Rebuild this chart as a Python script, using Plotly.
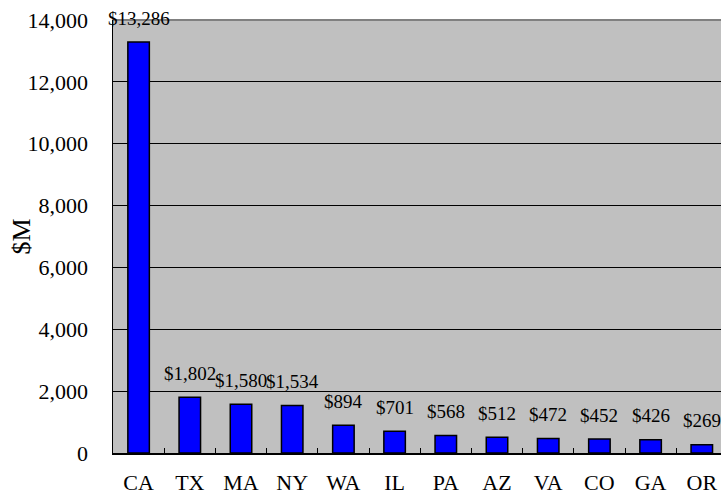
import plotly.graph_objects as go

states = ["CA", "TX", "MA", "NY", "WA", "IL", "PA", "AZ", "VA", "CO", "GA", "OR"]
values = [13286, 1802, 1580, 1534, 894, 701, 568, 512, 472, 452, 426, 269]
y_ticks = [0, 2000, 4000, 6000, 8000, 10000, 12000, 14000]
y_tick_labels = ["0", "2,000", "4,000", "6,000", "8,000", "10,000", "12,000", "14,000"]

FONT = "Liberation Serif, Times New Roman, serif"

fig = go.Figure()
fig.add_trace(go.Bar(
    x=states, y=values,
    width=0.42,
    marker=dict(color="#0000FF", line=dict(color="#000000", width=1.5)),
    hoverinfo="skip",
))

for s, v in zip(states, values):
    fig.add_annotation(x=s, y=v, text=f"${v:,}", showarrow=False,
                       yanchor="middle", yshift=24, borderpad=0,
                       font=dict(family=FONT, size=19, color="#000000"))

fig.add_annotation(xref="paper", yref="paper", x=0, y=0.5, xshift=-92,
                   text="$M", textangle=-90, showarrow=False,
                   xanchor="center", yanchor="middle",
                   font=dict(family=FONT, size=26, color="#000000"))

fig.add_shape(type="line", xref="paper", yref="paper", x0=0, x1=1, y0=1, y1=1,
              line=dict(color="#808080", width=2), layer="above")

fig.update_layout(
    width=721, height=495,
    margin=dict(l=113, r=0, t=20, b=42),
    paper_bgcolor="#FFFFFF",
    plot_bgcolor="#C0C0C0",
    showlegend=False,
    font=dict(family=FONT, size=22, color="#000000"),
    xaxis=dict(
        range=[-0.5, 11.375], automargin=False,
        tickson="boundaries", ticks="inside", ticklen=5, tickcolor="#000000",
        showline=True, linecolor="#000000", linewidth=1.5,
        showgrid=False, ticklabelstandoff=9, ticklabeloverflow="allow",
        tickfont=dict(family=FONT, size=22),
    ),
    yaxis=dict(
        range=[0, 14000], automargin=False,
        tickvals=y_ticks, ticktext=y_tick_labels,
        showline=True, linecolor="#000000", linewidth=1.5,
        gridcolor="#000000", gridwidth=1,
        zeroline=False, ticks="", ticklabelstandoff=19, ticklabeloverflow="allow",
        tickfont=dict(family=FONT, size=22),
    ),
)

fig.write_html(
    "out.html",
    config={"displayModeBar": False, "staticPlot": True},
    post_script=("document.body.style.margin='0';"
                 "document.body.style.overflow='hidden';"
                 "document.documentElement.style.overflow='hidden';"),
)
